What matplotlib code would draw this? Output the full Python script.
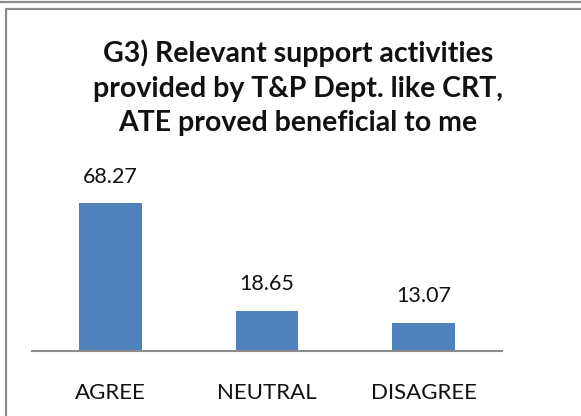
import matplotlib.pyplot as plt
from matplotlib.lines import Line2D

plt.rcParams.update({'font.family': ['Lato', 'DejaVu Sans']})

categories = ['AGREE', 'NEUTRAL', 'DISAGREE']
values = [68.27, 18.65, 13.07]
labels = ['68.27', '18.65', '13.07']
title = 'G3) Relevant support activities\nprovided by T&P Dept. like CRT,\nATE proved beneficial to me'

bar_color = '#4f81bd'
W, H = 581, 416

fig = plt.figure(figsize=(W / 100, H / 100), dpi=100)
ax = fig.add_axes([32 / W, (H - 351) / H, (502 - 32) / W, (351 - 178) / H])

x = range(len(categories))
bars = ax.bar(x, values, width=0.4, color=bar_color)
for b, lab in zip(bars, labels):
    ax.annotate(lab, (b.get_x() + b.get_width() / 2, b.get_height()),
                xytext=(0, 12), textcoords='offset points',
                ha='center', va='bottom', fontsize=15.5, color='#111111')

ax.set_xlim(-0.5, 2.5)
ax.set_ylim(0, 80)
ax.set_xticks(list(x))
ax.set_xticklabels(categories, fontsize=16, color='#111111')
ax.tick_params(axis='x', length=0, pad=23)
ax.set_yticks([])
for s in ['top', 'right', 'left']:
    ax.spines[s].set_visible(False)
ax.spines['bottom'].set_color('#8c8c8c')
ax.spines['bottom'].set_linewidth(1.5)

fig.text(298 / W, 1 - 88 / H, title, ha='center', va='center',
         fontsize=20.5, fontweight='bold', linespacing=1.4, color='#111111')

# frame lines around the chart
fig.add_artist(Line2D([0, 1], [1 - 2 / H, 1 - 2 / H], transform=fig.transFigure,
                      color='#8c8c8c', lw=1.6))
fig.add_artist(Line2D([6 / W, 6 / W, 1], [0, 1 - 8.5 / H, 1 - 8.5 / H],
                      transform=fig.transFigure, color='#8c8c8c', lw=1.6))

fig.savefig('out.png', dpi=100)
